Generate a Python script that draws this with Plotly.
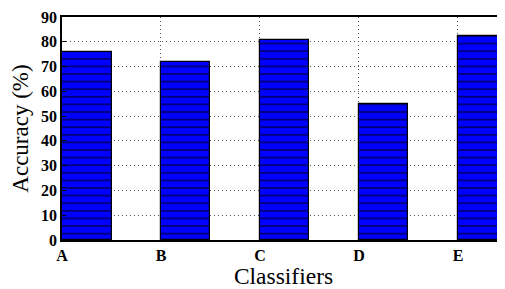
import plotly.graph_objects as go

categories = ["A", "B", "C", "D", "E"]
accuracy = [75.8, 71.7, 80.6, 54.8, 82.3]
y_ticks = [0, 10, 20, 30, 40, 50, 60, 70, 80, 90]

x_pos = list(range(len(categories)))

fig = go.Figure()
fig.add_trace(go.Bar(
    x=x_pos, y=accuracy, width=0.5, offset=0,
    marker=dict(color="#0000FF", line=dict(color="black", width=1.2),
                pattern=dict(shape="-", fgcolor="black", bgcolor="#0000FF",
                             size=7.6, solidity=0.25)),
))

font = "Times New Roman, Liberation Serif, serif"
# page body has an 8px margin, so the figure is sized to the visible area
fig.update_layout(
    width=497, height=281,
    margin=dict(l=54, r=0, t=9, b=49),
    paper_bgcolor="white", plot_bgcolor="white",
    showlegend=False, bargap=0,
    font=dict(family=font, color="black"),
)
fig.update_xaxes(
    range=[0, 4.475], tickvals=x_pos, ticktext=categories,
    tickfont=dict(family=font, size=16, weight="bold"),
    showline=True, linecolor="black", linewidth=1.5, mirror=True,
    ticks="inside", ticklen=4, tickcolor="black",
    showgrid=True, gridcolor="#555555", griddash="1px,3px", gridwidth=1,
    layer="above traces", zeroline=False,
    title=dict(text="Classifiers", font=dict(family=font, size=23.5, weight="normal"), standoff=7),
    automargin=False,
)
fig.update_yaxes(
    range=[0, 90], tickvals=y_ticks,
    tickfont=dict(family=font, size=16, weight="bold"),
    showline=True, linecolor="black", linewidth=1.5,
    ticks="inside", ticklen=4, tickcolor="black",
    showgrid=True, gridcolor="#555555", griddash="1px,3px", gridwidth=1,
    layer="above traces", zeroline=False,
    title=dict(text="Accuracy (%)", font=dict(family=font, size=23, weight="normal"), standoff=8),
    automargin=False,
)
fig.write_html("out.html")
